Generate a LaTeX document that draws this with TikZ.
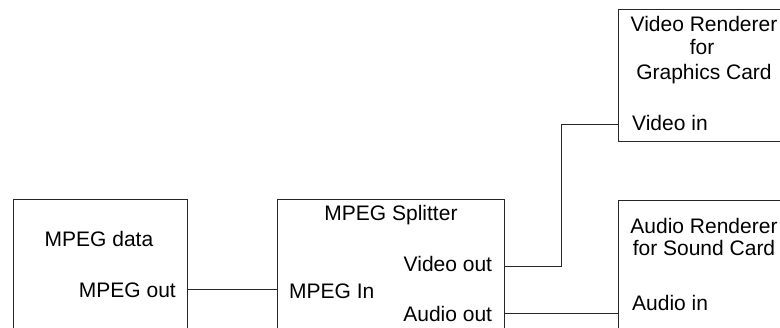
\documentclass[tikz,border=0pt]{standalone}
\usepackage{fontspec}
\setmainfont{Liberation Sans}
\begin{document}
\begin{tikzpicture}[x=1pt,y=-1pt,
  box/.style={draw=black!85,line width=0.9pt,rectangle,inner sep=0pt,anchor=north west},
  lbl/.style={inner sep=0pt,font=\fontsize{21}{25}\selectfont},
  wire/.style={draw=black!85,line width=0.9pt}]
\useasboundingbox (0,0) rectangle (780,328);
\clip (0,0) rectangle (780,328);
% boxes
\node[box,minimum width=174pt,minimum height=200pt] (src) at (12.7,199.3) {};
\node[box,minimum width=227pt,minimum height=200pt] (spl) at (277.3,199.3) {};
\node[box,minimum width=200pt,minimum height=131.7pt] (vr) at (617.7,9) {};
\node[box,minimum width=200pt,minimum height=200pt] (ar) at (617.7,200) {};
% texts
\node[lbl,anchor=base] (t1) at (99,247) {MPEG data};
\node[lbl,anchor=base east] (t2) at (176,297.5) {MPEG out};
\node[lbl,anchor=base] (t3) at (391,221) {MPEG Splitter};
\node[lbl,anchor=base east] (t4) at (492.3,271.5) {Video out};
\node[lbl,anchor=base west] (t5) at (289,298.5) {MPEG In};
\node[lbl,anchor=base east] (t6) at (492.3,321.5) {Audio out};
\node[lbl,anchor=base] (t7) at (704,31.5) {Video Renderer};
\node[lbl,anchor=base] (t8) at (702,55) {for};
\node[lbl,anchor=base] (t9) at (704,80) {Graphics Card};
\node[lbl,anchor=base west] (t10) at (632,130.5) {Video in};
\node[lbl,anchor=base] (t11) at (704,234) {Audio Renderer};
\node[lbl,anchor=base] (t12) at (704,256) {for Sound Card};
\node[lbl,anchor=base west] (t13) at (632,310.5) {Audio in};
% ports
\coordinate (srcout) at (186.7,289.3);
\coordinate (splin) at (277.3,289.3);
\coordinate (splv) at (504.3,266);
\coordinate (spla) at (504.3,313.3);
\coordinate (vrin) at (617.7,124);
\coordinate (arin) at (617.7,313.3);
\coordinate (bend) at (561,124);
% connectors
\draw[wire] (srcout) -- (splin);
\draw[wire] (splv) -| (bend) -- (vrin);
\draw[wire] (spla) -- (arin);
\end{tikzpicture}
\end{document}
